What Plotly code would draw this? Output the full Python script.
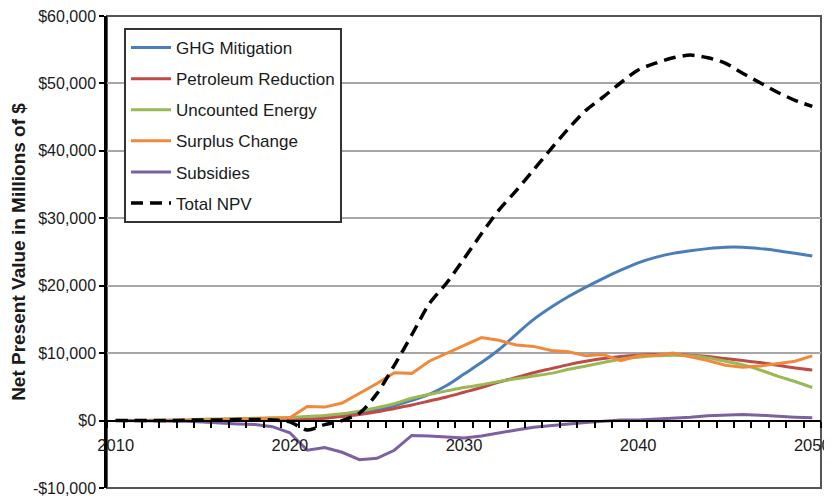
import plotly.graph_objects as go

years = list(range(2010, 2051))

ghg_mitigation = [0, 0, 0, 0, 0, 0, 0, 0, 0, 0,
                  50, 200, 400, 700, 1100, 1600, 2200, 3000, 3900, 5200,
                  6900, 8600, 10500, 12800, 15000, 16800, 18400, 19800, 21100, 22300,
                  23400, 24200, 24800, 25200, 25500, 25700, 25700, 25500, 25200, 24800,
                  24400]
petroleum_reduction = [0, 0, 0, 0, 0, 0, 50, 50, 100, 100,
                       100, 200, 350, 600, 900, 1300, 1800, 2300, 2900, 3500,
                       4200, 4900, 5700, 6400, 7100, 7700, 8300, 8800, 9200, 9500,
                       9700, 9800, 9800, 9700, 9500, 9200, 8900, 8600, 8200, 7800,
                       7500]
uncounted_energy = [0, 0, 0, 50, 100, 200, 250, 300, 350, 400,
                    450, 600, 750, 1000, 1400, 1900, 2500, 3300, 3900, 4400,
                    4900, 5300, 5800, 6200, 6600, 7000, 7600, 8100, 8600, 9100,
                    9400, 9600, 9700, 9600, 9300, 8800, 8300, 7500, 6600, 5800,
                    4900]
surplus_change = [0, 0, 0, 0, 0, 100, 150, 200, 250, 300,
                  400, 2100, 2000, 2600, 4000, 5500, 7100, 7000, 8800, 10000,
                  11200, 12300, 11900, 11200, 11000, 10400, 10200, 9600, 9800, 8900,
                  9600, 9700, 10000, 9500, 8900, 8200, 7900, 8100, 8400, 8800,
                  9600]
subsidies = [0, 0, 0, 0, -100, -200, -400, -500, -600, -900,
             -1800, -4400, -4000, -4700, -5800, -5600, -4400, -2200, -2300, -2500,
             -2600, -2300, -1800, -1400, -1000, -700, -500, -300, -100, 100,
             100, 200, 300, 500, 700, 800, 900, 800, 600, 500,
             400]
total_npv = [0, 0, 0, 0, 50, 100, 100, 150, 150, 100,
             -200, -1400, -600, 0, 1100, 4000, 8200, 12700, 17300, 20400,
             24000, 27700, 31200, 34100, 37200, 40300, 43300, 46000, 48000, 50100,
             52000, 53000, 53800, 54200, 53800, 53000, 51500, 50100, 48700, 47500,
             46600]

y_ticks = [-10000, 0, 10000, 20000, 30000, 40000, 50000, 60000]
y_tick_text = ["-$10,000", "$0", "$10,000", "$20,000", "$30,000", "$40,000", "$50,000", "$60,000"]
x_ticks = [2010, 2020, 2030, 2040, 2050]
x_tick_text = ["2010", "2020", "2030", "2040", "2050"]
x_minor_ticks = [y + 0.5 for y in range(2009, 2051)]

series = [
    ("GHG Mitigation", ghg_mitigation, "#4A7EBB", "spline", "solid", 3),
    ("Petroleum Reduction", petroleum_reduction, "#BE4B48", "spline", "solid", 3),
    ("Uncounted Energy", uncounted_energy, "#98B954", "spline", "solid", 3),
    ("Surplus Change", surplus_change, "#F08A3A", "linear", "solid", 3),
    ("Subsidies", subsidies, "#7D60A0", "linear", "solid", 3),
    ("Total NPV", total_npv, "#000000", "spline", "12px,7px", 3.5),
]

FONT = "Liberation Sans, Arial, sans-serif"

fig = go.Figure()
for i, (name, vals, color, shape, dash, w) in enumerate(series):
    fig.add_trace(go.Scatter(
        x=years, y=vals, name=name, mode="lines",
        line=dict(color=color, width=w, shape=shape, dash=dash, smoothing=0.8),
        legendgroup=f"g{i}",
    ))

# invisible helper trace so the tick-only axis (xaxis2) is rendered
fig.add_trace(go.Scatter(x=[years[0]], y=[0], xaxis="x2", mode="markers",
                         marker=dict(opacity=0), showlegend=False, hoverinfo="skip"))

# The page body adds an 8px offset, so the figure is 824x488 and margins are reduced by 8px.
fig.update_layout(
    width=824, height=488,
    margin=dict(l=99, r=11, t=8, b=8, autoexpand=False),
    paper_bgcolor="white", plot_bgcolor="white",
    font=dict(family=FONT, size=16, color="#1a1a1a"),
    showlegend=True,
    legend=dict(
        x=0.0238, y=0.9746, xanchor="left", yanchor="top",
        bgcolor="white", bordercolor="#333333", borderwidth=2,
        font=dict(family=FONT, size=17, color="#1a1a1a"),
        traceorder="grouped", tracegroupgap=6, itemwidth=40,
    ),
    xaxis=dict(
        range=[2009.5, 2050.5],
        anchor="free", position=1/7,
        tickmode="array", tickvals=x_ticks, ticktext=x_tick_text,
        ticks="outside", ticklen=10, tickcolor="rgba(0,0,0,0)",
        tickfont=dict(family=FONT, size=16.5, color="#1a1a1a"),
        ticklabeloverflow="allow",
        showgrid=False, zeroline=False,
        showline=True, linecolor="#000000", linewidth=2,
    ),
    xaxis2=dict(
        range=[2009.5, 2050.5], overlaying="x",
        anchor="free", position=1/7, side="bottom",
        tickmode="array", tickvals=x_minor_ticks,
        ticks="outside", ticklen=6, tickcolor="#000000", tickwidth=1.5,
        showticklabels=False, showgrid=False, zeroline=False, showline=False,
    ),
    yaxis=dict(
        range=[-10000, 60000], domain=[0, 1],
        tickmode="array", tickvals=y_ticks, ticktext=y_tick_text,
        ticks="outside", ticklen=5, tickcolor="#000000", tickwidth=1.5,
        tickfont=dict(family=FONT, size=16, color="#1a1a1a"),
        ticklabeloverflow="allow",
        showgrid=True, gridcolor="#A6A6A6", gridwidth=1.5,
        zeroline=False,
        showline=True, linecolor="#000000", linewidth=2.5,
        title=dict(text="<b>Net Present Value in Millions of $</b>",
                   font=dict(family=FONT, size=19, color="#1a1a1a"), standoff=10),
    ),
    shapes=[dict(type="rect", xref="paper", yref="paper", x0=0, y0=0, x1=1, y1=1,
                 line=dict(color="#555555", width=2), layer="below")],
)

fig.write_html("out.html")
